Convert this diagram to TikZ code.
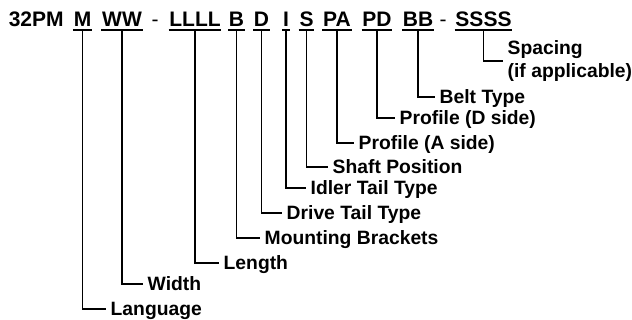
\documentclass[tikz,border=0pt]{standalone}
\usepackage{fontspec}
\setmainfont{Liberation Sans}
\begin{document}
\begin{tikzpicture}[x=1pt,y=-1pt,
code/.style={font=\fontsize{21}{25}\selectfont\bfseries,anchor=base,
    inner xsep=0.6pt,inner ysep=2.5pt,text depth=0pt},
field/.style={font=\fontsize{19.3}{23}\selectfont\bfseries,anchor=west,
    inner xsep=4.5pt,inner ysep=0pt,text height=13.8pt,text depth=0pt},
twoline/.style={font=\fontsize{19.3}{23}\selectfont\bfseries,anchor=west,
    inner xsep=4.5pt,inner ysep=0pt,align=left},
underEdge/.style={line width=2pt},
myedge/.style={line width=1.9pt}
]
\useasboundingbox (0,0) rectangle (632,320);
% model code
\node[code,anchor=base west] (pre) at (8,27) {32PM};
\node[code] (m) at (82.5,27) {M};
\node[code] (ww) at (122,27) {WW};
\node[code,font=\fontsize{21}{25}\selectfont] (d1) at (155,27) {-};
\node[code] (ll) at (195,27) {LLLL};
\node[code] (b) at (236.5,27) {B};
\node[code] (d) at (261.5,27) {D};
\node[code] (i) at (286,27) {I};
\node[code] (s) at (306.5,27) {S};
\node[code] (pa) at (337,27) {PA};
\node[code] (pd) at (377,27) {PD};
\node[code] (bb) at (418,27) {BB};
\node[code,font=\fontsize{21}{25}\selectfont] (d2) at (443,27) {-};
\node[code] (ss) at (483.5,27) {SSSS};
\foreach \c in {m,ww,ll,b,d,i,s,pa,pd,bb,ss}
  \draw[underEdge] (\c.south west) -- (\c.south east);
% fields
\node[field] (lang) at (106,309) {Language};
\node[field] (wid) at (143,284) {Width};
\node[field] (len) at (219,263) {Length};
\node[field] (mnt) at (260,238) {Mounting Brackets};
\node[field] (drv) at (282,213) {Drive Tail Type};
\node[field] (idl) at (306,188) {Idler Tail Type};
\node[field] (sft) at (328,167) {Shaft Position};
\node[field] (pra) at (354,143) {Profile (A side)};
\node[field] (prd) at (395,118) {Profile (D side)};
\node[field] (blt) at (435,97) {Belt Type};
\node[twoline] (spc) at (503,61) {Spacing\\(if applicable)};
\draw[myedge] (m.south) |- (lang.west) (ww.south) |- (wid.west);
\draw[myedge] (ll.south) |- (len.west) (b.south) |- (mnt.west);
\draw[myedge] (d.south) |- (drv.west) (i.south) |- (idl.west);
\draw[myedge] (s.south) |- (sft.west) (pa.south) |- (pra.west);
\draw[myedge] (pd.south) |- (prd.west) (bb.south) |- (blt.west);
\draw[myedge] (ss.south) |- (spc.west);
\end{tikzpicture}
\end{document}
